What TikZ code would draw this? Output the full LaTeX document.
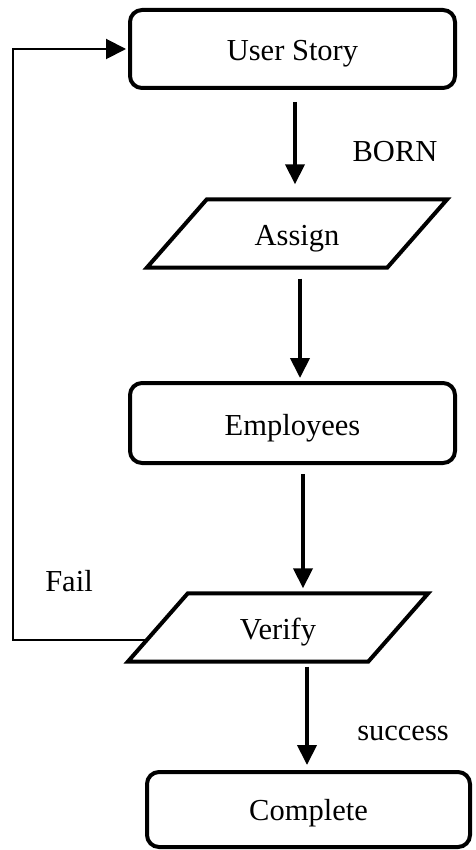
\documentclass[tikz,border=0pt]{standalone}
\usepackage{fontspec}
\setmainfont{Liberation Serif}
\usetikzlibrary{arrows.meta}
\begin{document}
\begin{tikzpicture}[x=1pt,y=-1pt,
  every node/.style={font=\fontsize{30.5}{35}\selectfont},
  rbox/.style={draw, line width=4pt, rounded corners=12pt, minimum width=325pt, minimum height=78pt, text height=24pt, text depth=0pt, inner sep=0pt},
  pbox/.style={minimum width=240pt, minimum height=68pt, text height=24pt, text depth=0pt, inner sep=0pt},
  para/.style={line width=4pt, line join=miter},
  arr/.style={line width=4pt, -{Triangle[length=20pt,width=19pt]}},
  thinarr/.style={line width=2pt, -{Triangle[length=20pt,width=20pt]}},
  lbl/.style={anchor=base, inner sep=0pt}
]
\useasboundingbox (0,0) rectangle (475,850);

\node[rbox] (story) at (292.5,49) {User Story};
\node[pbox] (assign) at (297,233.5) {Assign};
\node[rbox, minimum height=80pt] (employees) at (292.5,423) {Employees};
\node[pbox] (verify) at (278,627.5) {Verify};
\node[rbox, minimum width=323pt, minimum height=75pt, text height=21pt] (complete) at (308.5,809.5) {Complete};

\draw[para] ([xshift=-30pt]assign.south west) -- ([xshift=30pt]assign.north west)
  -- ([xshift=30pt]assign.north east) -- ([xshift=-30pt]assign.south east) -- cycle;
\draw[para] ([xshift=-30pt]verify.south west) -- ([xshift=30pt]verify.north west)
  -- ([xshift=30pt]verify.north east) -- ([xshift=-30pt]verify.south east) -- cycle;

\node[lbl] (born) at (395,162) {BORN};
\node[lbl] (fail) at (69,591) {Fail};
\node[lbl] (success) at (403,740) {success};

\draw[arr] ([xshift=2.5pt,yshift=-12pt]story.south) -- ([xshift=-2pt,yshift=15pt]assign.north);
\draw[arr] ([xshift=3pt,yshift=-11pt]assign.south) -- ([xshift=7.5pt,yshift=3pt]employees.north);
\draw[arr] ([xshift=10.5pt,yshift=-9pt]employees.south) -- ([xshift=25pt,yshift=5pt]verify.north);
\draw[arr] ([xshift=29pt,yshift=-5pt]verify.south) -- ([xshift=-1.5pt,yshift=5pt]complete.north);

\coordinate (failstart) at (147,640);
\coordinate (failcorner) at (13,640);
\draw[thinarr] (failstart) -- (failcorner) |- ([xshift=-2pt]story.west);
\end{tikzpicture}
\end{document}
